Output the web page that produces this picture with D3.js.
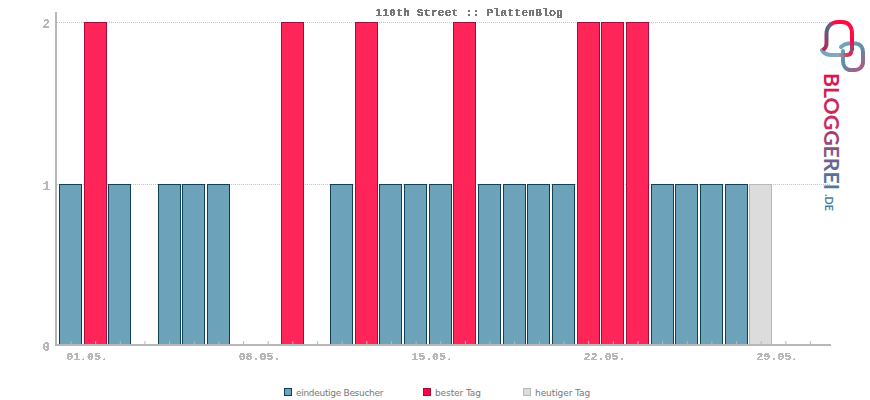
<!DOCTYPE html>
<html>
<head>
<meta charset="utf-8">
<script src="https://cdn.jsdelivr.net/npm/d3@7"></script>
<style>
  html, body { margin: 0; background: #fff; }
  svg { display: block; }
</style>
</head>
<body>
<svg class="chart"></svg>
<script>
const days = ["01.05.", "02.05.", "03.05.", "04.05.", "05.05.", "06.05.", "07.05.", "08.05.",
              "09.05.", "10.05.", "11.05.", "12.05.", "13.05.", "14.05.", "15.05.", "16.05.",
              "17.05.", "18.05.", "19.05.", "20.05.", "21.05.", "22.05.", "23.05.", "24.05.",
              "25.05.", "26.05.", "27.05.", "28.05.", "29.05.", "30.05.", "31.05."];
const visitors = [1, 0, 1, 0, 1, 1, 1, 0, 0, 0, 0, 1, 0, 1, 1, 1, 0, 1, 1, 1, 1, 0, 0, 0, 1, 1, 1, 1, 0, 0, 0];
const bestDay  = [0, 2, 0, 0, 0, 0, 0, 0, 0, 2, 0, 0, 2, 0, 0, 0, 2, 0, 0, 0, 0, 2, 2, 2, 0, 0, 0, 0, 0, 0, 0];
const today    = [0, 0, 0, 0, 0, 0, 0, 0, 0, 0, 0, 0, 0, 0, 0, 0, 0, 0, 0, 0, 0, 0, 0, 0, 0, 0, 0, 0, 1, 0, 0];
const labelDays = ["01.05.", "08.05.", "15.05.", "22.05.", "29.05."];
const yTicks = [0, 1, 2];
const legendNames = ["eindeutige Besucher", "bester Tag", "heutiger Tag"];

const width = 870, height = 400;
const mono = "'Liberation Mono', monospace";
const grey = "#b8b8b8";

const x = d3.scalePoint().domain(days).range([70.5, 810]);
const y = d3.scaleLinear().domain([0, 2]).range([345, 22]).interpolate(d3.interpolateRound);

const svg = d3.select(".chart").attr("width", width).attr("height", height);

// hard edges on the small text, the original has no smoothing
const defs = svg.append("defs");
const crisp = defs.append("filter").attr("id", "crisp")
   .attr("color-interpolation-filters", "sRGB")
   .attr("x", "-5%").attr("y", "-20%").attr("width", "110%").attr("height", "140%");
crisp.append("feComponentTransfer").append("feFuncA")
   .attr("type", "discrete").attr("tableValues", "0 1 1");

// grid lines
svg.selectAll("line.grid")
   .data(yTicks.slice(1))
  .enter().append("line")
   .attr("class", "grid")
   .attr("x1", 57).attr("x2", 830)
   .attr("y1", (d) => y(d) + 0.5).attr("y2", (d) => y(d) + 0.5)
   .attr("stroke", "#c4c4c4")
   .attr("stroke-dasharray", "1,1");

// bars
const series = [
  { values: visitors, fill: "#6ca3bb", stroke: "#0f4257" },
  { values: bestDay,  fill: "#ff2559", stroke: "#a80b3a" },
  { values: today,    fill: "#dcdcdc", stroke: "#b8b8b8" }
];
const barWidth = 22;

series.forEach((s) => {
  svg.append("g").selectAll("rect")
     .data(s.values.map((v, i) => ({ day: days[i], v })).filter((d) => d.v > 0))
    .enter().append("rect")
     .attr("x", (d) => Math.floor(x(d.day) - barWidth / 2) + 0.5)
     .attr("y", (d) => y(d.v) + 0.5)
     .attr("width", barWidth)
     .attr("height", (d) => y(0) - y(d.v))
     .attr("fill", s.fill)
     .attr("stroke", s.stroke)
     .attr("stroke-width", 1);
});

// x axis, ticks stand on top of the line
const xAxis = svg.append("g")
   .attr("transform", "translate(0, 345)")
   .call(d3.axisBottom(x).tickSize(-4).tickFormat((d) => labelDays.includes(d) ? d : ""));
xAxis.select(".domain").remove();
xAxis.selectAll(".tick line").attr("stroke", grey);
xAxis.selectAll(".tick text")
   .attr("dx", 16).attr("y", 7)
   .attr("fill", grey)
   .attr("filter", "url(#crisp)")
   .attr("font-family", mono).attr("font-weight", "bold").attr("font-size", 11.6);

svg.append("line")
   .attr("x1", 55).attr("x2", 831).attr("y1", 345).attr("y2", 345)
   .attr("stroke", grey).attr("stroke-width", 2);

// y axis
const yAxis = svg.append("g")
   .attr("transform", "translate(50, 2)")
   .call(d3.axisLeft(y).tickValues(yTicks).tickSize(0).tickPadding(0).tickFormat(d3.format("d")));
yAxis.select(".domain").remove();
yAxis.selectAll(".tick text")
   .attr("fill", grey)
   .attr("filter", "url(#crisp)")
   .attr("font-family", mono).attr("font-weight", "bold").attr("font-size", 12);

svg.append("line")
   .attr("x1", 56).attr("x2", 56).attr("y1", 12).attr("y2", 346)
   .attr("stroke", grey).attr("stroke-width", 2);

// title
svg.append("text")
   .attr("x", 469).attr("y", 16)
   .attr("text-anchor", "middle")
   .attr("fill", "#777")
   .attr("filter", "url(#crisp)")
   .attr("font-family", mono).attr("font-weight", "bold").attr("font-size", 11.6)
   .text("110th Street :: PlattenBlog");

// legend
const legendX = [284, 423, 523];
const legendColors = [series[0], { fill: "#ff0040", stroke: "#a80b3a" }, series[2]];
const legend = svg.selectAll("g.legend")
   .data(legendNames)
  .enter().append("g")
   .attr("class", "legend")
   .attr("transform", (d, i) => `translate(${legendX[i]}, 388)`);
legend.append("rect")
   .attr("x", 0.5).attr("y", 0.5).attr("width", 7).attr("height", 7)
   .attr("fill", (d, i) => legendColors[i].fill)
   .attr("stroke", (d, i) => legendColors[i].stroke);
legend.append("text")
   .attr("x", 12).attr("y", 7.5)
   .attr("fill", "#777")
   .attr("font-family", "'DejaVu Sans', sans-serif").attr("font-size", 9)
   .attr("textLength", (d) => d.length * 4.6).attr("lengthAdjust", "spacing")
   .text((d) => d);

// logo
const grad = (id, attrs, stops) => {
  const g = defs.append("linearGradient").attr("id", id).attr("gradientUnits", "userSpaceOnUse");
  Object.entries(attrs).forEach(([k, v]) => g.attr(k, v));
  stops.forEach(([o, c]) => g.append("stop").attr("offset", o).attr("stop-color", c));
};
grad("bubble", { x1: 824, y1: 50, x2: 853, y2: 25 }, [[0, "#b8234f"], [0.5, "#4d6d8f"], [0.68, "#ff0a45"], [1, "#ff0a45"]]);
grad("tail", { x1: 822, y1: 52, x2: 852, y2: 52 }, [[0, "#6ca8bf"], [0.55, "#8fa8bd"], [0.8, "#b8526f"], [1, "#ff0a45"]]);
grad("ring", { x1: 842, y1: 45, x2: 864, y2: 70 }, [[0, "#6ca8bf"], [0.5, "#5f8aa5"], [1, "#b8527a"]]);
grad("word", { x1: 0, y1: 0, x2: 118, y2: 0 }, [[0, "#e0134f"], [0.45, "#c23263"], [0.8, "#5f6a94"], [1, "#4a7da0"]]);

const logo = svg.append("g").attr("fill", "none").attr("stroke-width", 4).attr("stroke-linecap", "round");
logo.append("path").attr("stroke", "url(#ring)")
    .attr("d", "M841 47 C846 42 852 43 856 43.5 C860 44 863 47 863 52 L863 62 C863 67 859 70 855 70 L851 70 C846 70 843 66 843 61 L843 51");
logo.append("path").attr("stroke", "url(#tail)")
    .attr("d", "M822 50 C824 54 828 55 832 55 L846 55 C849 55 851 54 851 52");
logo.append("path").attr("stroke", "url(#bubble)")
    .attr("d", "M824 49 C827 47 826.5 44 826.5 41 L826.5 34 C826.5 26 832 22 838 22 L842 22 C849 22 852 27 852 34 L852 50");

const word = svg.append("g").attr("transform", "translate(824, 73) rotate(90)");
word.append("text")
    .attr("fill", "url(#word)")
    .attr("font-family", "Lato, sans-serif").attr("font-weight", "bold").attr("font-size", 21)
    .attr("textLength", 117).attr("lengthAdjust", "spacingAndGlyphs")
    .text("BLOGGEREI");
svg.append("text")
    .attr("transform", "translate(825, 194) rotate(90)")
    .attr("fill", "#4a7da0")
    .attr("font-family", "Lato, sans-serif").attr("font-weight", "bold").attr("font-size", 12)
    .attr("textLength", 17).attr("lengthAdjust", "spacingAndGlyphs")
    .text(".DE");
</script>
</body>
</html>
